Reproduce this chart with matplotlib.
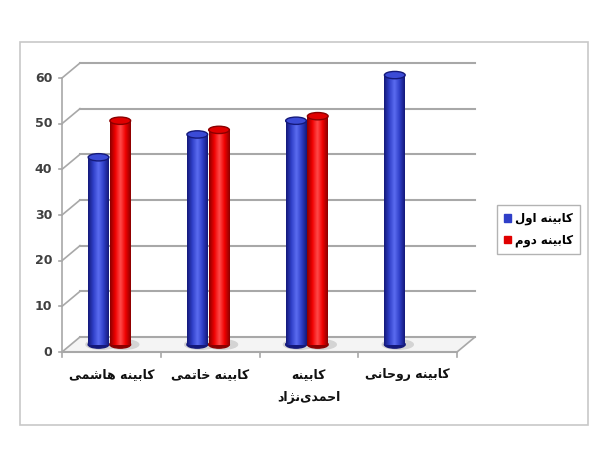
import numpy as np
import matplotlib
matplotlib.use("Agg")
import matplotlib.pyplot as plt
from matplotlib.patches import Ellipse, Rectangle, Patch
from matplotlib.colors import LinearSegmentedColormap

# data
categories = ["کابینه هاشمی", "کابینه خاتمی", "کابینه\nاحمدی\u200cنژاد", "کابینه روحانی"]
first_term = [41, 46, 49, 59]
second_term = [49, 47, 50, None]
series_names = ["کابینه اول", "کابینه دوم"]
yticks = [0, 10, 20, 30, 40, 50, 60]

# minimal Persian shaping (matplotlib has no complex text layout)
# letter: (isolated, final, initial, medial); right-joining letters have 2 forms
FORMS = {
    "ا": (0xFE8D, 0xFE8E), "د": (0xFEA9, 0xFEAA), "ر": (0xFEAD, 0xFEAE),
    "ز": (0xFEAF, 0xFEB0), "ژ": (0xFB8A, 0xFB8B), "و": (0xFEED, 0xFEEE),
    "ب": (0xFE8F, 0xFE90, 0xFE91, 0xFE92), "ت": (0xFE95, 0xFE96, 0xFE97, 0xFE98),
    "ح": (0xFEA1, 0xFEA2, 0xFEA3, 0xFEA4), "خ": (0xFEA5, 0xFEA6, 0xFEA7, 0xFEA8),
    "ش": (0xFEB5, 0xFEB6, 0xFEB7, 0xFEB8), "ل": (0xFEDD, 0xFEDE, 0xFEDF, 0xFEE0),
    "م": (0xFEE1, 0xFEE2, 0xFEE3, 0xFEE4), "ن": (0xFEE5, 0xFEE6, 0xFEE7, 0xFEE8),
    "ه": (0xFEE9, 0xFEEA, 0xFEEB, 0xFEEC), "ک": (0xFB8E, 0xFB8F, 0xFB90, 0xFB91),
    "ی": (0xFBFC, 0xFBFD, 0xFBFE, 0xFBFF),
}


def shape_line(s):
    out = []
    for k, ch in enumerate(s):
        if ch not in FORMS:
            if ch != "\u200c":
                out.append(ch)
            continue
        prev = s[k - 1] if k > 0 else ""
        nxt = s[k + 1] if k + 1 < len(s) else ""
        join_prev = prev in FORMS and len(FORMS[prev]) == 4
        join_next = len(FORMS[ch]) == 4 and nxt in FORMS
        f = FORMS[ch]
        if join_prev and join_next:
            code = f[3]
        elif join_prev:
            code = f[1]
        elif join_next:
            code = f[2]
        else:
            code = f[0]
        out.append(chr(code))
    return "".join(out)[::-1]


def fa(s):
    return "\n".join(shape_line(line) for line in s.split("\n"))


plt.rcParams["font.family"] = ["DejaVu Sans"]

W, H = 608, 458
fig = plt.figure(figsize=(W / 100, H / 100), dpi=100)
fig.patch.set_facecolor("white")

# chart frame
fig.add_artist(Rectangle((20 / W, 1 - 425 / H), 568 / W, 383 / H,
                         transform=fig.transFigure, fill=False,
                         edgecolor="#c8c8c8", lw=1.2))

ax = fig.add_axes([62 / W, 106 / H, 395 / W, 274 / H])
ax.set_xlim(-0.5, 3.5)
ax.set_ylim(0, 60)
ax.axis("off")

dx, dy = 0.182, 3.28   # depth offset of the back wall, in data units
grid_c = "#a8a8a8"

# back wall grid + left wall diagonals
for v in yticks:
    ax.plot([-0.5 + dx, 3.5 + dx], [v + dy, v + dy], color=grid_c, lw=1.5,
            clip_on=False, zorder=1)
    ax.plot([-0.5, -0.5 + dx], [v, v + dy], color=grid_c, lw=1.2,
            clip_on=False, zorder=1)
    ax.plot([-0.53, -0.5], [v, v], color=grid_c, lw=1.2, clip_on=False)
    ax.text(-0.6, v, str(v), ha="right", va="center", fontsize=9,
            fontweight="bold", color="#404040")

# floor
ax.fill([-0.5, 3.5, 3.5 + dx, -0.5 + dx], [0, 0, dy, dy], color="#f4f4f4",
        zorder=0.5, clip_on=False)
ax.plot([-0.5, -0.5], [0, 60], color=grid_c, lw=1.2, clip_on=False)
ax.plot([-0.5, 3.5], [0, 0], color=grid_c, lw=1.5, clip_on=False)
ax.plot([3.5, 3.5 + dx], [0, dy], color=grid_c, lw=1.2, clip_on=False)
for t in [-0.5, 0.5, 1.5, 2.5, 3.5]:
    ax.plot([t, t], [0, -1.2], color=grid_c, lw=1.2, clip_on=False)

lift = dy / 2
bw = 0.21
ell_h = 1.6


def cylinder(x, h, dark, mid, light, top):
    bars = ax.bar([x], [h], bw, bottom=lift, color=mid, zorder=3)
    r = bars[0]
    r.set_clip_on(False)
    x0, y0 = r.get_x(), r.get_y()
    w, hh = r.get_width(), r.get_height()
    # floor shadow
    ax.add_patch(Ellipse((x0 + w / 2 + 0.03, y0), w * 1.5, ell_h * 1.3,
                         color="#d4d4d4", zorder=2, clip_on=False))
    ax.add_patch(Ellipse((x0 + w / 2, y0), w, ell_h, color=dark, zorder=2.9,
                         clip_on=False))
    cmap = LinearSegmentedColormap.from_list("cyl", [dark, mid, light, mid, dark])
    im = ax.imshow(np.linspace(0, 1, 64)[None, :], cmap=cmap, aspect="auto",
                   extent=(x0, x0 + w, y0, y0 + hh), zorder=3.1,
                   interpolation="bilinear")
    im.set_clip_on(False)
    ax.add_patch(Ellipse((x0 + w / 2, y0 + hh), w, ell_h, facecolor=top,
                         edgecolor=dark, lw=1.0, zorder=3.2, clip_on=False))


for i, v in enumerate(first_term):
    cylinder(i - 0.13, v, "#14197a", "#2f3fc8", "#5b6cf0", "#3b4bd6")
for i, v in enumerate(second_term):
    if v is not None:
        cylinder(i + 0.09, v, "#8a0000", "#f00000", "#ff4a4a", "#e00000")

ax.set_xlim(-0.5, 3.5)
ax.set_ylim(0, 60)

# category labels
for i, c in enumerate(categories):
    ax.text(i, -3.6, fa(c), ha="center", va="top", fontsize=9,
            fontweight="bold", color="#111111", linespacing=2.0)

handles = [Patch(facecolor="#2f3fc8", edgecolor="#2f3fc8"),
           Patch(facecolor="#e00000", edgecolor="#e00000")]
fig.legend(handles, [fa(s) for s in series_names], loc="upper left",
           bbox_to_anchor=(497 / W, 1 - 205 / H),
           prop={"weight": "bold", "size": 8.5}, frameon=True, fancybox=False,
           edgecolor="#a0a0a0", handlelength=0.6, handleheight=0.6,
           handletextpad=0.3, borderpad=0.6, labelspacing=0.7,
           borderaxespad=0)

fig.savefig("out.png", dpi=100, facecolor="white")
